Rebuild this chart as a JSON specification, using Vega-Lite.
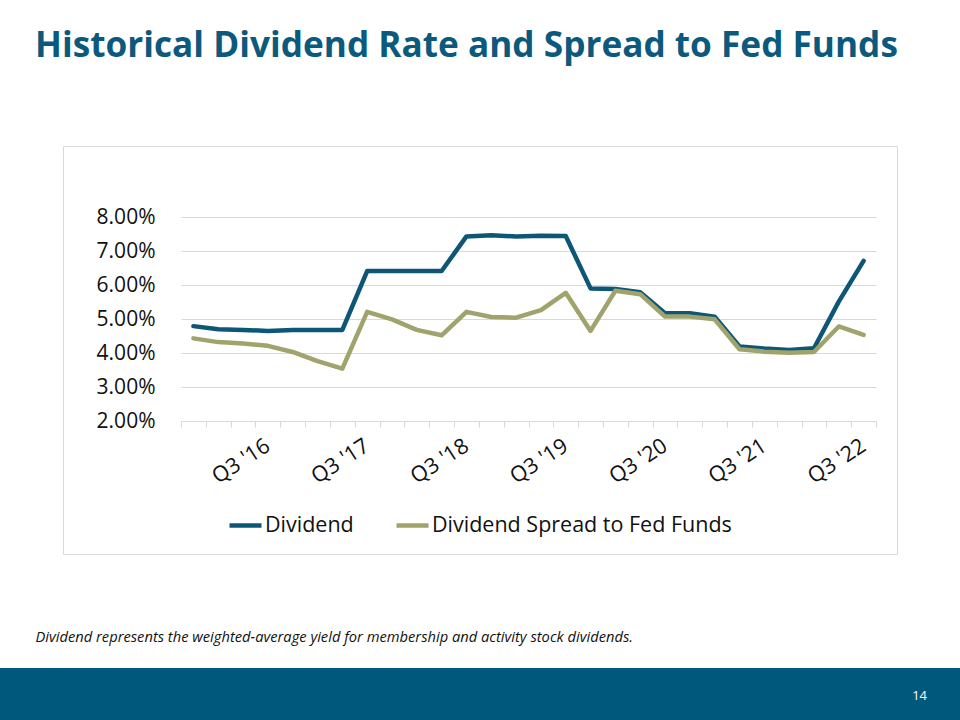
{
  "$schema": "https://vega.github.io/schema/vega-lite/v6.json",
  "autosize": {"type": "pad"},
  "padding": {"top": 28, "left": 0, "right": 0, "bottom": 0},
  "background": "#ffffff",
  "spacing": 114,
  "bounds": "flush",
  "center": true,
  "config": {
    "font": "Open Sans",
    "view": {"stroke": "#d9d9d9", "strokeWidth": 1}
  },
  "vconcat": [
    {
      "width": 834,
      "height": 408,
      "title": {
        "text": "Historical Dividend Rate and Spread to Fed Funds",
        "anchor": "start",
        "frame": "group",
        "dx": -28,
        "offset": 54,
        "baseline": "alphabetic",
        "fontSize": 35.2,
        "fontWeight": "bold",
        "font": "Open Sans",
        "color": "#0B5A7D"
      },
      "data": {
        "values": [
          {"quarter": "Q4 '15", "series": "Dividend", "rate": 0.0479},
          {"quarter": "Q1 '16", "series": "Dividend", "rate": 0.0470},
          {"quarter": "Q2 '16", "series": "Dividend", "rate": 0.0468},
          {"quarter": "Q3 '16", "series": "Dividend", "rate": 0.0465},
          {"quarter": "Q4 '16", "series": "Dividend", "rate": 0.0468},
          {"quarter": "Q1 '17", "series": "Dividend", "rate": 0.0468},
          {"quarter": "Q2 '17", "series": "Dividend", "rate": 0.0468},
          {"quarter": "Q3 '17", "series": "Dividend", "rate": 0.0641},
          {"quarter": "Q4 '17", "series": "Dividend", "rate": 0.0641},
          {"quarter": "Q1 '18", "series": "Dividend", "rate": 0.0641},
          {"quarter": "Q2 '18", "series": "Dividend", "rate": 0.0641},
          {"quarter": "Q3 '18", "series": "Dividend", "rate": 0.0743},
          {"quarter": "Q4 '18", "series": "Dividend", "rate": 0.0746},
          {"quarter": "Q1 '19", "series": "Dividend", "rate": 0.0743},
          {"quarter": "Q2 '19", "series": "Dividend", "rate": 0.0745},
          {"quarter": "Q3 '19", "series": "Dividend", "rate": 0.0744},
          {"quarter": "Q4 '19", "series": "Dividend", "rate": 0.0590},
          {"quarter": "Q1 '20", "series": "Dividend", "rate": 0.0588},
          {"quarter": "Q2 '20", "series": "Dividend", "rate": 0.0579},
          {"quarter": "Q3 '20", "series": "Dividend", "rate": 0.0517},
          {"quarter": "Q4 '20", "series": "Dividend", "rate": 0.0517},
          {"quarter": "Q1 '21", "series": "Dividend", "rate": 0.0507},
          {"quarter": "Q2 '21", "series": "Dividend", "rate": 0.0419},
          {"quarter": "Q3 '21", "series": "Dividend", "rate": 0.0413},
          {"quarter": "Q4 '21", "series": "Dividend", "rate": 0.0409},
          {"quarter": "Q1 '22", "series": "Dividend", "rate": 0.0414},
          {"quarter": "Q2 '22", "series": "Dividend", "rate": 0.0551},
          {"quarter": "Q3 '22", "series": "Dividend", "rate": 0.0671},
          {"quarter": "Q4 '15", "series": "Dividend Spread to Fed Funds", "rate": 0.0443},
          {"quarter": "Q1 '16", "series": "Dividend Spread to Fed Funds", "rate": 0.0432},
          {"quarter": "Q2 '16", "series": "Dividend Spread to Fed Funds", "rate": 0.0428},
          {"quarter": "Q3 '16", "series": "Dividend Spread to Fed Funds", "rate": 0.0421},
          {"quarter": "Q4 '16", "series": "Dividend Spread to Fed Funds", "rate": 0.0403},
          {"quarter": "Q1 '17", "series": "Dividend Spread to Fed Funds", "rate": 0.0376},
          {"quarter": "Q2 '17", "series": "Dividend Spread to Fed Funds", "rate": 0.0354},
          {"quarter": "Q3 '17", "series": "Dividend Spread to Fed Funds", "rate": 0.0521},
          {"quarter": "Q4 '17", "series": "Dividend Spread to Fed Funds", "rate": 0.0499},
          {"quarter": "Q1 '18", "series": "Dividend Spread to Fed Funds", "rate": 0.0468},
          {"quarter": "Q2 '18", "series": "Dividend Spread to Fed Funds", "rate": 0.0452},
          {"quarter": "Q3 '18", "series": "Dividend Spread to Fed Funds", "rate": 0.0521},
          {"quarter": "Q4 '18", "series": "Dividend Spread to Fed Funds", "rate": 0.0506},
          {"quarter": "Q1 '19", "series": "Dividend Spread to Fed Funds", "rate": 0.0504},
          {"quarter": "Q2 '19", "series": "Dividend Spread to Fed Funds", "rate": 0.0526},
          {"quarter": "Q3 '19", "series": "Dividend Spread to Fed Funds", "rate": 0.0577},
          {"quarter": "Q4 '19", "series": "Dividend Spread to Fed Funds", "rate": 0.0465},
          {"quarter": "Q1 '20", "series": "Dividend Spread to Fed Funds", "rate": 0.0583},
          {"quarter": "Q2 '20", "series": "Dividend Spread to Fed Funds", "rate": 0.0573},
          {"quarter": "Q3 '20", "series": "Dividend Spread to Fed Funds", "rate": 0.0507},
          {"quarter": "Q4 '20", "series": "Dividend Spread to Fed Funds", "rate": 0.0507},
          {"quarter": "Q1 '21", "series": "Dividend Spread to Fed Funds", "rate": 0.0499},
          {"quarter": "Q2 '21", "series": "Dividend Spread to Fed Funds", "rate": 0.0411},
          {"quarter": "Q3 '21", "series": "Dividend Spread to Fed Funds", "rate": 0.0404},
          {"quarter": "Q4 '21", "series": "Dividend Spread to Fed Funds", "rate": 0.0401},
          {"quarter": "Q1 '22", "series": "Dividend Spread to Fed Funds", "rate": 0.0403},
          {"quarter": "Q2 '22", "series": "Dividend Spread to Fed Funds", "rate": 0.0478},
          {"quarter": "Q3 '22", "series": "Dividend Spread to Fed Funds", "rate": 0.0453}
        ]
      },
      "mark": {"type": "line", "strokeWidth": 4.5, "strokeJoin": "round", "strokeCap": "round"},
      "encoding": {
        "x": {
          "field": "quarter",
          "type": "ordinal",
          "sort": null,
          "scale": {"type": "band", "paddingInner": 0, "paddingOuter": 0, "range": [118, 813]},
          "axis": {
            "title": "Dividend represents the weighted-average yield for membership and activity stock dividends.",
            "orient": "bottom",
            "offset": -133,
            "tickBand": "extent",
            "domainColor": "#d9d9d9",
            "domainWidth": 1,
            "tickColor": "#d9d9d9",
            "tickSize": 6,
            "tickWidth": 1,
            "grid": false,
            "labelAngle": -33,
            "labelAlign": "right",
            "labelBaseline": "middle",
            "labelPadding": 17,
            "labelFontSize": 21.5,
            "labelFont": "Open Sans",
            "labelColor": "#111111",
            "labelOverlap": false,
            "labelBound": false,
            "labelExpr": "indexof(datum.label, 'Q3') == 0 ? datum.label : ''",
            "titleX": -28,
            "titleY": 220,
            "titleAlign": "left",
            "titleAnchor": "start",
            "titleBaseline": "alphabetic",
            "titleAngle": 0,
            "titleFontSize": 14.7,
            "titleFontStyle": "italic",
            "titleFontWeight": "normal",
            "titleFont": "Open Sans",
            "titleColor": "#111111",
            "titleLimit": 1000
          }
        },
        "y": {
          "field": "rate",
          "type": "quantitative",
          "scale": {"domain": [0.02, 0.08], "range": [275, 71], "zero": false, "nice": false},
          "axis": {
            "title": null,
            "orient": "left",
            "offset": -118,
            "values": [0.02, 0.03, 0.04, 0.05, 0.06, 0.07, 0.08],
            "format": ".2%",
            "domain": false,
            "ticks": false,
            "grid": true,
            "gridColor": "#d9d9d9",
            "gridWidth": 1,
            "labelPadding": 26,
            "labelFontSize": 21,
            "labelFont": "Open Sans",
            "labelColor": "#111111"
          }
        },
        "color": {
          "field": "series",
          "type": "nominal",
          "sort": null,
          "scale": {"domain": ["Dividend", "Dividend Spread to Fed Funds"], "range": ["#0E5676", "#A0A46C"]},
          "legend": {
            "title": null,
            "orient": "none",
            "legendX": 227,
            "legendY": 361,
            "direction": "horizontal",
            "symbolType": "stroke",
            "symbolSize": 1024,
            "symbolStrokeWidth": 4.5,
            "labelFontSize": 21.5,
            "labelFont": "Open Sans",
            "labelColor": "#111111",
            "labelLimit": 500,
            "labelOffset": 1,
            "columnPadding": 33,
            "padding": 0
          }
        }
      }
    },
    {
      "width": 960,
      "height": 52,
      "view": {"fill": "#00587C", "stroke": null},
      "data": {"values": []},
      "mark": "point",
      "title": {
        "text": "14",
        "orient": "bottom",
        "anchor": "end",
        "frame": "group",
        "offset": -20,
        "dx": -33,
        "baseline": "alphabetic",
        "fontSize": 13,
        "fontWeight": "normal",
        "font": "Open Sans",
        "color": "#ffffff"
      }
    }
  ]
}
